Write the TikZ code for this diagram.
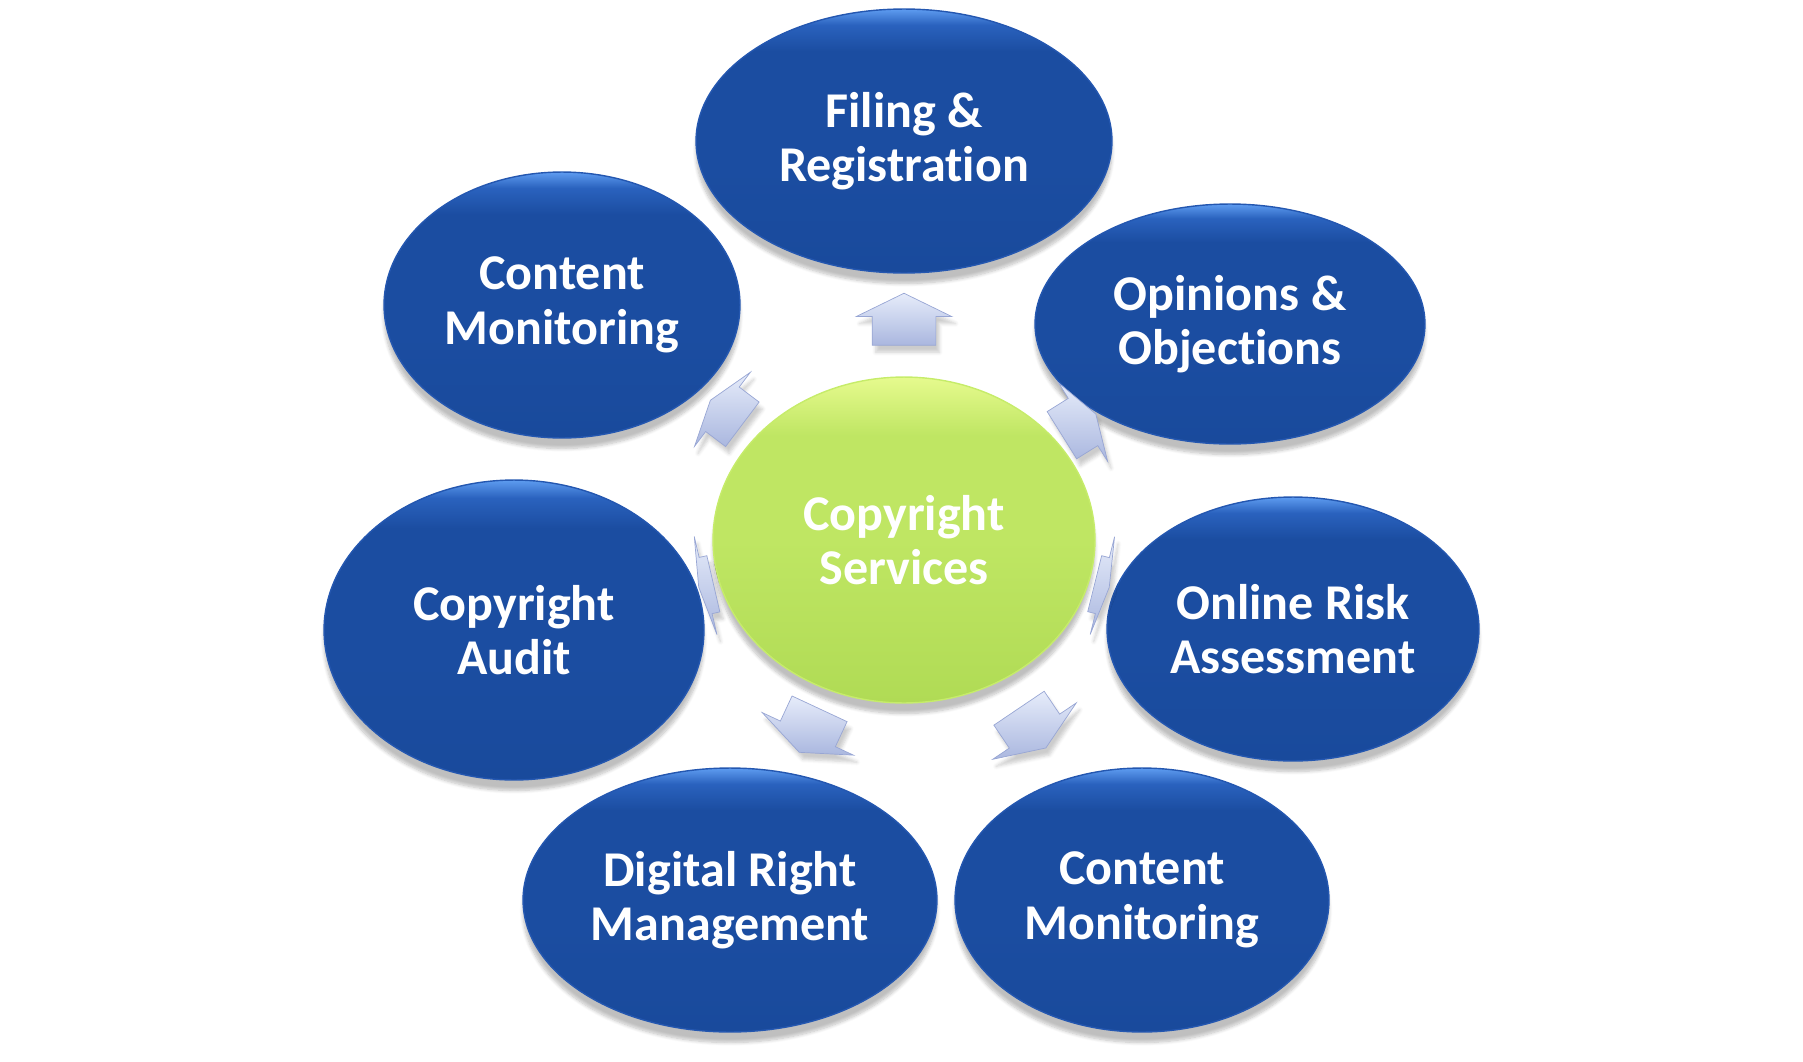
\documentclass[tikz,border=0pt]{standalone}
\usepackage{fontspec}
\setmainfont{Carlito}[Ligatures=NoCommon]
\usetikzlibrary{shapes.geometric,shapes.arrows,shadows.blur}

\definecolor{blueTop}{HTML}{5E9CF0}
\definecolor{blueRimIn}{HTML}{2A62BE}
\definecolor{blueMid}{HTML}{1B4DA1}
\definecolor{blueBot}{HTML}{194A9C}
\definecolor{blueRim}{HTML}{2457B0}
\definecolor{greenTop}{HTML}{E6FA8E}
\definecolor{greenMid}{HTML}{BFE663}
\definecolor{greenBot}{HTML}{B0DB55}
\definecolor{greenRim}{HTML}{C6EC6A}
\definecolor{arrowLight}{HTML}{E6ECFA}
\definecolor{arrowDark}{HTML}{AAB7DF}
\definecolor{arrowRim}{HTML}{98A6D4}

% vertical shadings: 25bp = bottom of the shape, 75bp = top
\pgfdeclareverticalshading{topicshade}{100bp}{color(0bp)=(blueBot); color(25bp)=(blueBot);
  color(45bp)=(blueMid); color(67bp)=(blueMid); color(72bp)=(blueRimIn); color(75bp)=(blueTop); color(100bp)=(blueTop)}
\pgfdeclareverticalshading{hubshade}{100bp}{color(0bp)=(greenBot); color(25bp)=(greenBot);
  color(50bp)=(greenMid); color(66bp)=(greenMid); color(75bp)=(greenTop); color(100bp)=(greenTop)}

\tikzset{
  topic/.style={ellipse, inner sep=0pt, draw=blueRim, line width=0.8pt, shading=topicshade,
    blur shadow={shadow xshift=0pt, shadow yshift=-6pt, shadow opacity=25, shadow blur steps=8},
    text=white, align=center, font=\fontsize{28.5}{31}\selectfont\bfseries},
  hub/.style={topic, draw=greenRim, shading=hubshade},
  pointer/.style={single arrow, inner xsep=0pt, draw=arrowRim, line width=0.4pt,
    top color=arrowLight, bottom color=arrowDark,
    blur shadow={shadow xshift=2pt, shadow yshift=-4pt, shadow opacity=20, shadow blur steps=5}}
}

\begin{document}
\begin{tikzpicture}[x=0.02cm, y=-0.02cm]
\useasboundingbox (0,0) rectangle (1803,1062);

% outer topics
\node[topic, minimum width=8.32cm, minimum height=5.28cm] (filing) at (904,141) {Filing \&\\Registration};
\node[topic, minimum width=7.8cm, minimum height=4.8cm] (opinions) at (1230,324) {Opinions \&\\Objections};
\node[topic, minimum width=7.44cm, minimum height=5.28cm] (risk) at (1293,629) {Online Risk\\Assessment};
\node[topic, minimum width=7.48cm, minimum height=5.28cm] (monitorR) at (1142,900) {Content\\Monitoring};
\node[topic, minimum width=8.28cm, minimum height=5.28cm] (drm) at (730,900) {Digital Right\\Management};
\node[topic, minimum width=7.6cm, minimum height=6.0cm] (audit) at (514,630) {Copyright\\Audit};
\node[topic, minimum width=7.12cm, minimum height=5.32cm] (monitorL) at (562,305) {Content\\Monitoring};

% hub
\node[hub, minimum width=7.64cm, minimum height=6.52cm] (hub) at (904,540) {Copyright\\Services};

% arrows from hub to topics
\node[pointer, rotate=90, minimum height=1.04cm, inner ysep=0.63cm,
  single arrow head extend=0.32cm, single arrow tip angle=128] (toFiling) at (904,327) {};
\node[pointer, rotate=32, minimum height=0.8cm, inner ysep=0.55cm,
  single arrow head extend=0.37cm, single arrow tip angle=144] (toOpinions) at (1075,427) {};
\node[pointer, rotate=-14, minimum height=0.3cm, inner ysep=0.57cm,
  single arrow head extend=0.43cm, single arrow tip angle=164] (toRisk) at (1100,585) {};
\node[pointer, rotate=-56, minimum height=0.96cm, inner ysep=0.6cm,
  single arrow head extend=0.4cm, single arrow tip angle=136] (toMonitorR) at (1029,723) {};
\node[pointer, rotate=245, minimum height=0.96cm, inner ysep=0.6cm,
  single arrow head extend=0.4cm, single arrow tip angle=136] (toDrm) at (812,725) {};
\node[pointer, rotate=193, minimum height=0.3cm, inner ysep=0.57cm,
  single arrow head extend=0.43cm, single arrow tip angle=164] (toAudit) at (708,585) {};
\node[pointer, rotate=143, minimum height=0.8cm, inner ysep=0.55cm,
  single arrow head extend=0.37cm, single arrow tip angle=144] (toMonitorL) at (730,415) {};
\end{tikzpicture}
\end{document}
